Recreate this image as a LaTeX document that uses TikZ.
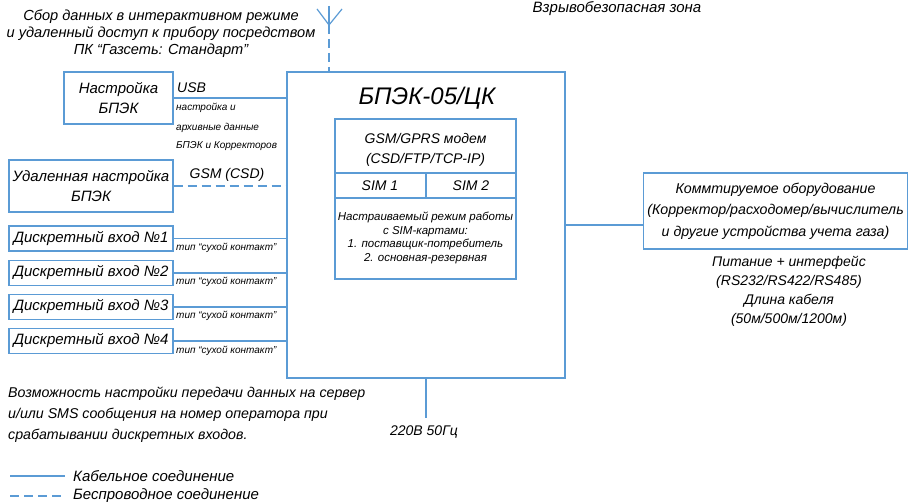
\documentclass[tikz,border=0pt]{standalone}
\usepackage{fontspec}
\setmainfont{Liberation Sans}
\definecolor{lblue}{HTML}{5B9BD5}
\begin{document}
\begin{tikzpicture}[x=1pt,y=-1pt,
  ln/.style={draw=lblue,line width=1.2pt},
  dsh/.style={draw=lblue,line width=1.2pt,dash pattern=on 9pt off 5pt},
  bx/.style={draw=lblue,line width=1.2pt,inner sep=0pt,align=center,font=\fontsize{15}{20}\selectfont\itshape},
  txt/.style={font=\fontsize{15}{17}\selectfont\itshape,inner sep=0pt,align=center},
  sm/.style={font=\fontsize{10}{12}\selectfont\itshape,inner sep=0pt},
]
\useasboundingbox (0,0) rectangle (908,502);

% top texts
\node[txt,font=\fontsize{14.6}{17}\selectfont\itshape] (intro) at (161,34) {Сбор данных в интерактивном режиме\\и удаленный доступ к прибору посредством\\ПК “Газсеть: Стандарт”};
\node[txt] (zone) at (617,9) {Взрывобезопасная зона};

% main box
\node[bx,minimum width=278pt,minimum height=306pt] (main) at (426,225) {};
\node[txt,font=\fontsize{24}{26}\selectfont\itshape] (title) at (427,98) {БПЭК-05/ЦК};

% inner modem box
\node[bx,minimum width=181pt,minimum height=160pt] (modem) at (425.5,199) {};
\draw[ln] (335,173) -- (516,173);
\draw[ln] (335,198) -- (516,198);
\draw[ln] (426,173) -- (426,198);
\node[txt,font=\fontsize{14}{20}\selectfont\itshape] (gsm) at (425.5,150) {GSM/GPRS модем\\(CSD/FTP/TCP-IP)};
\node[txt,font=\fontsize{14}{16}\selectfont\itshape] (sim1) at (380,186) {SIM 1};
\node[txt,font=\fontsize{14}{16}\selectfont\itshape] (sim2) at (471,186) {SIM 2};
\node[txt,font=\fontsize{11.5}{13.7}\selectfont\itshape] (mode) at (425.5,238) {Настраиваемый режим работы\\с SIM-картами:\\1. поставщик-потребитель\\2. основная-резервная};

% antenna
\coordinate (ant) at (329,25);
\coordinate (antT) at (329,6);
\coordinate (antL) at (317,9);
\coordinate (antR) at (342,9);
\draw[ln] (antT) -- (ant);
\draw[ln] (antL) -- (ant) -- (antR);
\draw[dsh] (ant) -- (ant |- main.north);

% left boxes
\node[bx,minimum width=109pt,minimum height=52pt] (nastr) at (118.5,98) {Настройка\\БПЭК};
\draw[ln] (nastr.east) -- (nastr.east -| main.west);
\node[txt,font=\fontsize{14}{16}\selectfont\itshape,anchor=west] (usb) at (177,88) {USB};
\node[sm,anchor=west] (usb1) at (176,108) {настройка и};
\node[sm,anchor=west] (usb2) at (176,128) {архивные данные};
\node[sm,anchor=west] (usb3) at (176,146) {БПЭК и Корректоров};

\node[bx,minimum width=164pt,minimum height=52pt] (remote) at (91,186) {Удаленная настройка\\БПЭК};
\draw[dsh] (remote.east) -- (remote.east -| main.west);
\node[txt,font=\fontsize{14}{16}\selectfont\itshape] (gsmcsd) at (227,175) {GSM (CSD)};

\node[bx,minimum width=164pt,minimum height=25pt] (d1) at (91,238.5) {Дискретный вход №1};
\node[bx,minimum width=164pt,minimum height=25pt] (d2) at (91,273) {Дискретный вход №2};
\node[bx,minimum width=164pt,minimum height=25pt] (d3) at (91,307) {Дискретный вход №3};
\node[bx,minimum width=164pt,minimum height=25pt] (d4) at (91,341) {Дискретный вход №4};
\draw[ln] (d1.east) -- (d1.east -| main.west);
\draw[ln] (d2.east) -- (d2.east -| main.west);
\draw[ln] (d3.east) -- (d3.east -| main.west);
\draw[ln] (d4.east) -- (d4.east -| main.west);
\node[sm,anchor=west] (t1) at (176,248) {тип “сухой контакт”};
\node[sm,anchor=west] (t2) at (176,282) {тип “сухой контакт”};
\node[sm,anchor=west] (t3) at (176,316) {тип “сухой контакт”};
\node[sm,anchor=west] (t4) at (176,351) {тип “сухой контакт”};

% right box
\node[bx,minimum width=264pt,minimum height=76pt,font=\fontsize{14.2}{21.5}\selectfont\itshape] (equip) at (775.5,211) {Коммтируемое оборудование\\(Корректор/расходомер/вычислитель\\и другие устройства учета газа)};
\draw[ln] (main.east) -- (main.east -| equip.west);
\node[txt,font=\fontsize{14}{19}\selectfont\itshape] (iface) at (789,291) {Питание + интерфейс\\(RS232/RS422/RS485)\\Длина кабеля\\(50м/500м/1200м)};

% power
\coordinate (pw) at (426,418);
\draw[ln] (main.south) -- (pw);
\node[txt,font=\fontsize{14}{16}\selectfont\itshape] (pwl) at (424,432) {220В 50Гц};

% bottom note
\node[txt,align=left,anchor=north west,font=\fontsize{14.2}{21}\selectfont\itshape] (note) at (8,387) {Возможность настройки передачи данных на сервер\\и/или SMS сообщения на номер оператора при\\срабатывании дискретных входов.};

% legend
\coordinate (la1) at (10,476);
\coordinate (la2) at (65,476);
\coordinate (lb1) at (10,496);
\coordinate (lb2) at (65,496);
\draw[ln] (la1) -- (la2);
\draw[dsh] (lb1) -- (lb2);
\node[txt,anchor=west] (lga) at (73,476) {Кабельное соединение};
\node[txt,anchor=west] (lgb) at (73,496) {Беспроводное соединение};
\end{tikzpicture}
\end{document}
